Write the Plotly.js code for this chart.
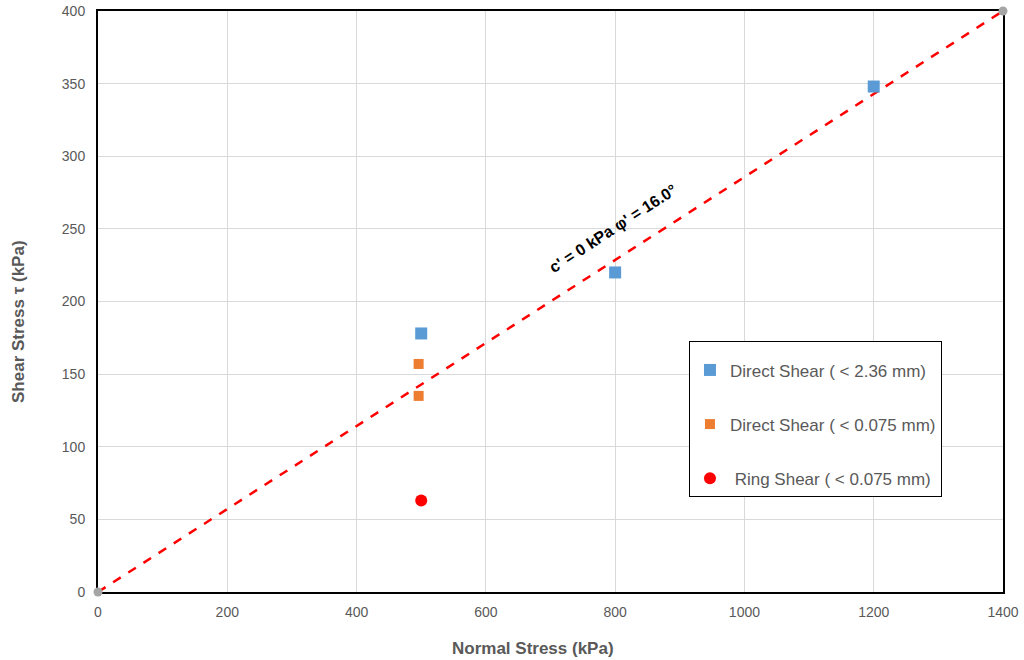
<!DOCTYPE html>
<html><head><meta charset="utf-8">
<script src="https://cdn.plot.ly/plotly-3.0.1.min.js"></script>
<style>body{margin:0;background:#fff}#chart{width:1024px;height:660px}</style>
</head><body><div id="chart"></div>
<script>
const ds236X = [500, 800, 1200];
const ds236Y = [178, 220, 348];
const ds075X = [496, 496];
const ds075Y = [157, 135];
const ringX = [500];
const ringY = [63];
const envX = [0, 1400];
const envY = [0, 400];
const names = ['Direct Shear ( < 2.36 mm)', 'Direct Shear ( < 0.075 mm)', ' Ring Shear ( < 0.075 mm)'];
const envLabel = "c' = 0 kPa φ' = 16.0°";
const xTitle = 'Normal Stress (kPa)';
const yTitle = 'Shear Stress τ (kPa)';
const xTicks = [0, 200, 400, 600, 800, 1000, 1200, 1400];
const yTicks = [0, 50, 100, 150, 200, 250, 300, 350, 400];

const FONT = 'Liberation Sans, Arial, sans-serif';
const traces = [
  {x: envX, y: envY, mode: 'lines', line: {color: '#ff0000', width: 2.5, dash: 'dash'}, showlegend: false, hoverinfo: 'skip'},
  {x: envX, y: envY, mode: 'markers', marker: {color: '#a5a5a5', size: 9}, showlegend: false, cliponaxis: false},
  {x: ds236X, y: ds236Y, mode: 'markers', name: names[0], legendgroup: 'a', marker: {symbol: 'square', color: '#5b9bd5', size: 12}},
  {x: ds075X, y: ds075Y, mode: 'markers', name: names[1], legendgroup: 'b', marker: {symbol: 'square', color: '#ed7d31', size: 10}},
  {x: ringX, y: ringY, mode: 'markers', name: names[2], legendgroup: 'c', marker: {symbol: 'circle', color: '#ff0000', size: 12}}
];

const axisCommon = {
  showline: true, linecolor: '#000', linewidth: 2, mirror: true,
  gridcolor: '#d9d9d9', gridwidth: 1, zeroline: false,
  tickfont: {family: FONT, size: 14, color: '#595959'},
  ticks: '', layer: 'below traces'
};

const pw = 1024 - 98 - 21, ph = 660 - 11 - 68;
const layout = {
  width: 1024, height: 660,
  margin: {l: 98, r: 21, t: 11, b: 68},
  paper_bgcolor: '#fff', plot_bgcolor: '#fff',
  font: {family: FONT, color: '#595959'},
  xaxis: Object.assign({}, axisCommon, {range: [0, 1400], tickvals: xTicks, ticklabelstandoff: 6}),
  yaxis: Object.assign({}, axisCommon, {range: [0, 400], tickvals: yTicks, ticklabelstandoff: 8}),
  legend: {x: 0.653, y: 0.432, xanchor: 'left', yanchor: 'top', bgcolor: '#fff', bordercolor: '#000', borderwidth: 1,
    font: {size: 17, color: '#595959'}, tracegroupgap: 29, itemwidth: 30,
    title: {text: ' ', font: {size: 8}}},
  annotations: [
    {x: 797, y: 250, xref: 'x', yref: 'y', text: envLabel, showarrow: false, textangle: -33,
      font: {family: FONT, size: 16, color: '#000', weight: 'bold'}},
    {x: (533 - 98) / pw, y: (592 - 648) / ph, xref: 'paper', yref: 'paper', xanchor: 'center', yanchor: 'middle',
      text: xTitle, showarrow: false,
      font: {family: FONT, size: 17, color: '#595959', weight: 'bold'}},
    {x: (18 - 98) / pw, y: (592 - 322) / ph, xref: 'paper', yref: 'paper', xanchor: 'center', yanchor: 'middle',
      text: yTitle, showarrow: false, textangle: -90,
      font: {family: FONT, size: 17, color: '#595959', weight: 'bold'}}
  ]
};

Plotly.newPlot('chart', traces, layout, {displayModeBar: false, staticPlot: true});
</script></body></html>
